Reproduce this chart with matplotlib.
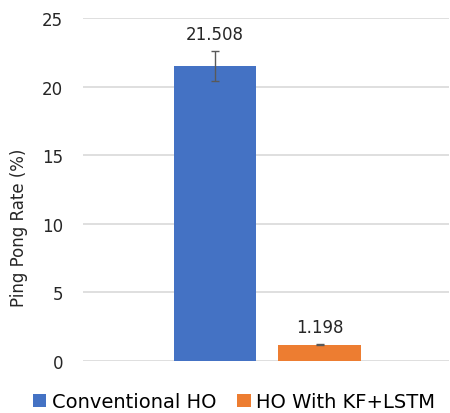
import matplotlib

matplotlib.use("Agg")
import matplotlib.pyplot as plt

series_names = ["Conventional HO", "HO With KF+LSTM"]
ping_pong_rate = [21.508, 1.198]
error_margin = [1.1, 0.05]
bar_colors = ["#4472C4", "#ED7D31"]
value_labels = ["21.508", "1.198"]

plt.rcParams["font.family"] = ["DejaVu Sans"]

fig = plt.figure(figsize=(4.5, 4.14), dpi=100)
ax = fig.add_axes([0.184, 0.1256, 0.814, 0.8285])

positions = [0.361, 0.647]
handles = []
for pos, val, err, color, name, lab in zip(
    positions, ping_pong_rate, error_margin, bar_colors, series_names, value_labels
):
    bar = ax.bar(pos, val, width=0.226, color=color, label=name, zorder=3)
    ax.errorbar(pos, val, yerr=err, fmt="none", ecolor="#595959", elinewidth=1,
                capsize=3, capthick=1, zorder=4)
    handles.append(bar)
    ax.text(pos, val + err + 1.2, lab, ha="center", va="center", fontsize=12,
            color="#262626")

ax.set_xlim(0, 1)
ax.set_ylim(0, 25)
ax.set_yticks(range(0, 26, 5))
ax.set_xticks([])
ax.yaxis.grid(True, color="#D9D9D9", linewidth=1.2, zorder=0)
ax.set_axisbelow(True)
for spine in ax.spines.values():
    spine.set_visible(False)
ax.tick_params(axis="y", length=0, labelsize=12, pad=14, labelcolor="#262626")
ax.set_ylabel("Ping Pong Rate (%)", fontsize=12, color="#262626")
ax.yaxis.set_label_coords(-0.15, 0.39)

fig.legend(handles=handles, labels=series_names, loc="center",
           bbox_to_anchor=(0.52, 0.027), ncol=2, frameon=False, fontsize=14,
           handlelength=0.68, handleheight=0.68, handletextpad=0.3,
           columnspacing=1.1, borderpad=0)

fig.savefig("out.png", dpi=100)
